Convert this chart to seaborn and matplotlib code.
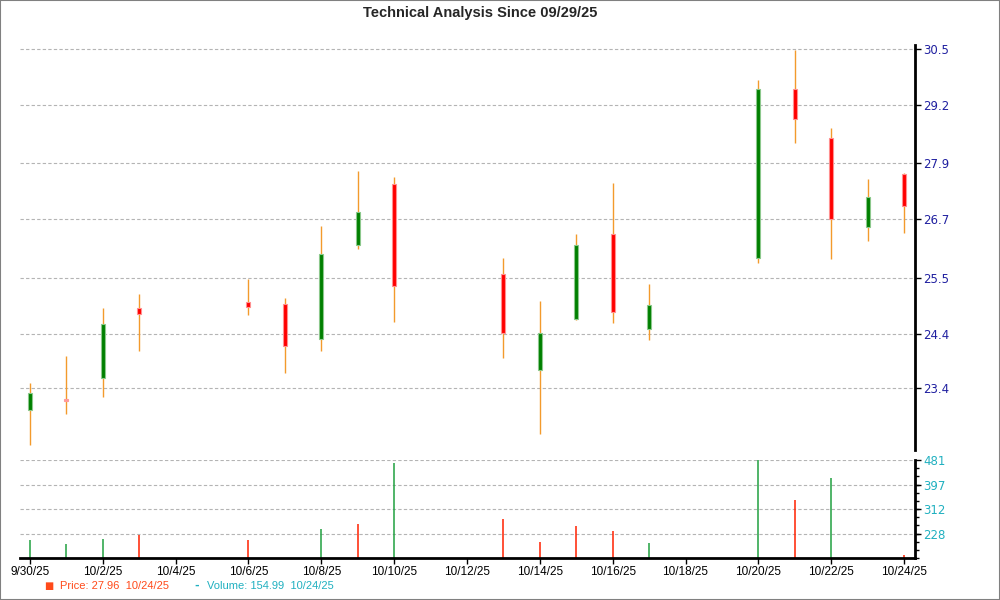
import pandas as pd
import seaborn as sns
import matplotlib.pyplot as plt
import matplotlib.dates as mdates
from matplotlib.patches import Rectangle
from matplotlib.ticker import FixedLocator, NullLocator

# daily data
dates = ['2025-09-30', '2025-10-01', '2025-10-02', '2025-10-03', '2025-10-06', '2025-10-07',
         '2025-10-08', '2025-10-09', '2025-10-10', '2025-10-13', '2025-10-14', '2025-10-15',
         '2025-10-16', '2025-10-17', '2025-10-20', '2025-10-21', '2025-10-22', '2025-10-23',
         '2025-10-24']
opens = [23.00, 23.19, 23.58, 24.90, 25.02, 24.99, 24.31, 26.17, 27.45, 25.59, 23.73, 24.70,
         26.40, 24.51, 25.90, 29.57, 28.46, 26.53, 27.66]
highs = [23.49, 23.99, 24.90, 25.18, 25.48, 25.10, 26.56, 27.72, 27.59, 25.90, 25.04, 26.39,
         27.46, 25.38, 29.77, 30.49, 28.67, 27.55, 27.69]
lows = [22.37, 22.93, 23.24, 24.08, 24.78, 23.68, 24.09, 26.08, 24.63, 23.96, 22.57, 24.68,
        24.62, 24.30, 25.81, 28.34, 25.88, 26.24, 26.41]
closes = [23.30, 23.17, 24.59, 24.79, 24.93, 24.18, 25.99, 26.86, 25.34, 24.42, 24.43, 26.17,
          24.83, 24.97, 29.57, 28.87, 26.71, 27.17, 26.98]
volumes = [208, 194, 212, 225, 208, 130, 246, 263, 470, 280, 202, 257, 237, 198, 480, 346,
           421, 140, 155]
volume_up = [True, True, True, False, False, False, True, False, True, False, False, False,
             False, True, True, False, True, True, False]

price_ticks = [23.4, 24.4, 25.5, 26.7, 27.9, 29.2, 30.5]
volume_ticks = [228, 312, 397, 481]
x_tick_dates = ['2025-09-30', '2025-10-02', '2025-10-04', '2025-10-06', '2025-10-08',
                '2025-10-10', '2025-10-12', '2025-10-14', '2025-10-16', '2025-10-18',
                '2025-10-20', '2025-10-22', '2025-10-24']
x_tick_labels = ['9/30/25', '10/2/25', '10/4/25', '10/6/25', '10/8/25', '10/10/25',
                 '10/12/25', '10/14/25', '10/16/25', '10/18/25', '10/20/25', '10/22/25',
                 '10/24/25']

df = pd.DataFrame({'date': pd.to_datetime(dates), 'open': opens, 'high': highs,
                   'low': lows, 'close': closes, 'volume': volumes, 'up_vol': volume_up})
df['x'] = mdates.date2num(df['date'])
df['bottom'] = df[['open', 'close']].min(axis=1)
df['top'] = df[['open', 'close']].max(axis=1)

sns.set_style("white")
plt.rcParams['font.family'] = ['DejaVu Sans']

fig = plt.figure(figsize=(10, 6), dpi=100)
ax = fig.add_axes([0.02, 0.25, 0.895, 0.675])
axv = fig.add_axes([0.02, 0.07, 0.895, 0.1633], sharex=ax)

grid_kw = dict(color='#b4b4b4', linestyle=(0, (3, 2)), linewidth=0.8)

# candles
wick = '#f39a2c'
ax.vlines(df['x'], df['low'], df['high'], color=wick, linewidth=1, zorder=2)
up = df['close'] > df['open']
flat = (df['close'] - df['open']).abs() < 0.05
for mask, face, edge in [(up, '#008000', '#8cc88c'),
                         (~up & ~flat, '#ff0000', '#ff9090'),
                         (flat, '#ff9a9a', '#ff9a9a')]:
    d = df[mask]
    ax.bar(d['x'], d['top'] - d['bottom'], bottom=d['bottom'], width=0.11,
           color=face, edgecolor=edge, linewidth=0.8, zorder=3)

ax.set_yscale('log')
ax.set_ylim(22.29, 30.6)
ax.yaxis.set_major_locator(FixedLocator(price_ticks))
ax.yaxis.set_minor_locator(NullLocator())
ax.set_yticklabels([f'{t:.1f}' for t in price_ticks])
ax.yaxis.tick_right()
ax.grid(axis='y', **grid_kw)
ax.set_axisbelow(True)
ax.tick_params(axis='y', which='major', right=True, length=4, width=1, color='black',
               labelsize=8.5, labelcolor='#2020a0', pad=2)
ax.tick_params(axis='x', bottom=False, labelbottom=False)
for s in ['top', 'left', 'bottom']:
    ax.spines[s].set_visible(False)
ax.spines['right'].set_linewidth(2)
ax.spines['right'].set_color('black')

# volume
vcol = ['#20a040' if u else '#ff2000' for u in df['up_vol']]
axv.vlines(df['x'], 0, df['volume'], colors=vcol, linewidth=1.1)
axv.set_ylim(146, 481)
axv.yaxis.set_major_locator(FixedLocator(volume_ticks))
axv.yaxis.set_minor_locator(FixedLocator(
    [146 + (481 - 146) * k / 12 for k in range(13)]))
axv.yaxis.tick_right()
axv.grid(axis='y', which='major', **grid_kw)
axv.set_axisbelow(True)
axv.tick_params(axis='y', which='major', right=True, length=4, width=1, color='black',
                labelsize=8.5, labelcolor='#20b0c0', pad=2)
axv.tick_params(axis='y', which='minor', right=True, length=3, width=1, color='black')
for s in ['top', 'left']:
    axv.spines[s].set_visible(False)
for s in ['right', 'bottom']:
    axv.spines[s].set_linewidth(2)
    axv.spines[s].set_color('black')

xt = mdates.date2num(pd.to_datetime(x_tick_dates))
axv.set_xticks(xt)
axv.set_xticklabels(x_tick_labels, fontfamily='Liberation Sans')
axv.tick_params(axis='x', bottom=True, length=4, width=1, color='black', labelsize=8.5,
                labelcolor='black', pad=2)
axv.set_xlim(df['x'].iloc[0] - 0.27, df['x'].iloc[-1] + 0.3)

# title and legend
fig.text(0.48, 0.979, 'Technical Analysis Since 09/29/25', ha='center', va='center',
         fontsize=10.5, fontweight='bold', family=['Liberation Sans', 'DejaVu Sans'])
fig.text(0.049, 0.023, '■', color='#ff4a1a', fontsize=7, ha='center', va='center')
fig.text(0.060, 0.023, 'Price: 27.96  10/24/25', color='#ff4a1a', fontsize=8,
         va='center', family='Liberation Sans')
fig.text(0.197, 0.023, '-', color='#20b0c0', fontsize=8, ha='center', va='center',
         fontweight='bold')
fig.text(0.207, 0.023, 'Volume: 154.99  10/24/25', color='#20b0c0', fontsize=8,
         va='center', family='Liberation Sans')

fig.patches.append(Rectangle((0, 0), 1, 1, transform=fig.transFigure, fill=False,
                             edgecolor='#808080', linewidth=1.5, zorder=10))

fig.savefig('out.png', dpi=100)
